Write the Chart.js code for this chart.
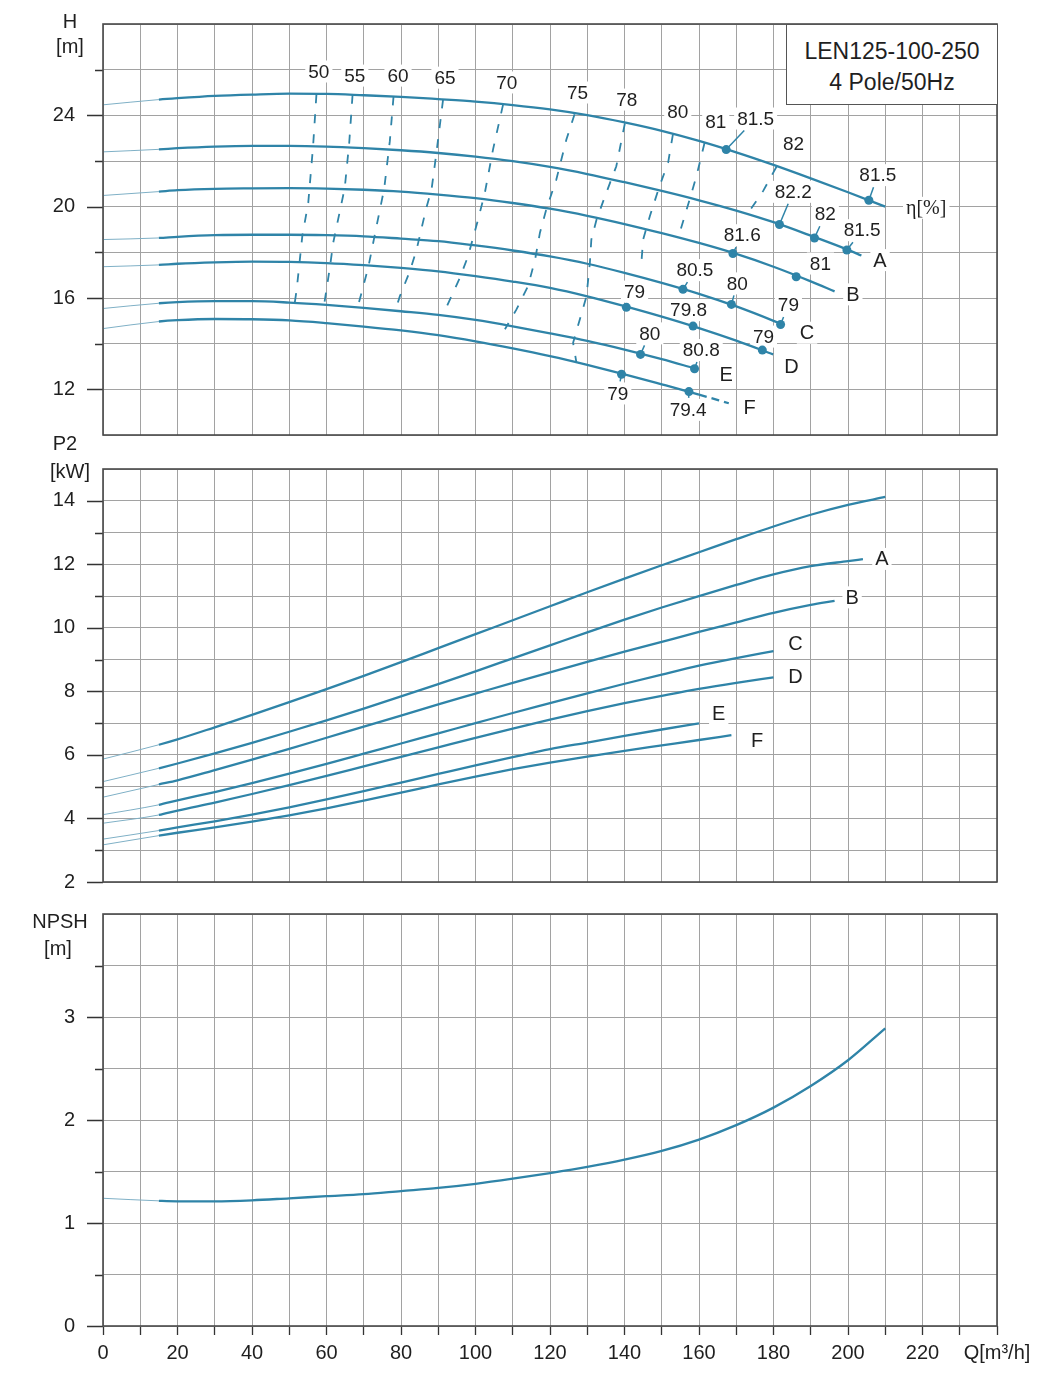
<!DOCTYPE html>
<html lang="en">
<head>
<meta charset="UTF-8">
<title>LEN125-100-250 4 Pole/50Hz</title>
<script src="https://cdn.jsdelivr.net/npm/chart.js"></script>
<style>
  body { margin: 0; background: #fff; }
  #page { position: relative; width: 1046px; height: 1373px; font-family: "Liberation Sans", Arial, sans-serif; color: #1f1f1f; }
  #page canvas { position: absolute; left: 0; }
  .lbl { position: absolute; transform: translate(-50%, -50%); font-size: 20px; white-space: nowrap; }
  #model { position: absolute; left: 786px; top: 24px; width: 212px; height: 81px; box-sizing: border-box;
           border: 1.5px solid #555; background: #fff; text-align: center; font-size: 23px; line-height: 31px; padding-top: 11px; }
</style>
</head>
<body>
<div id="page">
  <canvas id="chartH" width="1046" height="449" style="top:0"></canvas>
  <canvas id="chartP" width="1046" height="443" style="top:455px"></canvas>
  <canvas id="chartN" width="1046" height="473" style="top:900px"></canvas>
  <div class="lbl" style="left:70px;top:21px">H</div>
  <div class="lbl" style="left:70px;top:46px">[m]</div>
  <div class="lbl" style="left:65px;top:443px">P2</div>
  <div class="lbl" style="left:70px;top:471px">[kW]</div>
  <div class="lbl" style="left:60px;top:921px">NPSH</div>
  <div class="lbl" style="left:58px;top:948px">[m]</div>
  <div id="model"><div>LEN125-100-250</div><div>4 Pole/50Hz</div></div>
</div>
<script>
  // flow grid shared by every curve (m3/h); each curve stops at its own end value
  const qGrid = [0, 15, 20, 30, 40, 50, 60, 70, 80, 90, 100, 110, 120, 130, 140, 150, 160, 170, 180, 190, 200, 210];
  const curveNames = ['', 'A', 'B', 'C', 'D', 'E', 'F'];

  // H-Q curves
  const hEnd = [210, 203.6, 196.4, 181.9, 179.9, 158.8, 168];
  const hValues = [
    [24.46, 24.69, 24.75, 24.85, 24.91, 24.95, 24.94, 24.88, 24.81, 24.71, 24.6, 24.45, 24.26, 24.01, 23.69, 23.32, 22.88, 22.38, 21.83, 21.24, 20.63, 20.0],
    [22.4, 22.51, 22.56, 22.63, 22.66, 22.66, 22.63, 22.56, 22.47, 22.35, 22.19, 21.99, 21.74, 21.43, 21.07, 20.69, 20.28, 19.83, 19.32, 18.73, 18.11, 17.86],
    [20.49, 20.66, 20.72, 20.78, 20.8, 20.81, 20.79, 20.74, 20.66, 20.53, 20.37, 20.16, 19.91, 19.6, 19.24, 18.84, 18.41, 17.93, 17.37, 16.73, 16.29],
    [18.56, 18.63, 18.68, 18.75, 18.77, 18.77, 18.75, 18.7, 18.6, 18.49, 18.3, 18.08, 17.82, 17.5, 17.1, 16.66, 16.18, 15.63, 15.0, 14.87],
    [17.37, 17.45, 17.5, 17.56, 17.59, 17.58, 17.53, 17.44, 17.32, 17.17, 16.96, 16.72, 16.44, 16.07, 15.64, 15.18, 14.68, 14.13, 13.53],
    [15.54, 15.77, 15.82, 15.86, 15.86, 15.8, 15.7, 15.57, 15.42, 15.26, 15.04, 14.76, 14.45, 14.12, 13.74, 13.32, 12.92],
    [14.66, 14.97, 15.03, 15.08, 15.07, 15.02, 14.9, 14.75, 14.58, 14.37, 14.1, 13.79, 13.45, 13.07, 12.66, 12.22, 11.77, 11.39]
  ];

  // P2-Q curves
  const pEnd = [210, 204, 196.4, 180, 180, 160, 168.7];
  const pValues = [
    [5.87, 6.32, 6.49, 6.87, 7.26, 7.66, 8.07, 8.49, 8.92, 9.36, 9.8, 10.24, 10.68, 11.12, 11.55, 11.97, 12.38, 12.79, 13.19, 13.56, 13.87, 14.12],
    [5.16, 5.58, 5.73, 6.05, 6.38, 6.73, 7.09, 7.46, 7.84, 8.23, 8.63, 9.04, 9.45, 9.86, 10.26, 10.64, 11.0, 11.35, 11.68, 11.94, 12.1, 12.16],
    [4.67, 5.07, 5.2, 5.52, 5.85, 6.19, 6.54, 6.89, 7.24, 7.59, 7.93, 8.27, 8.6, 8.93, 9.25, 9.56, 9.87, 10.17, 10.47, 10.72, 10.85],
    [4.12, 4.43, 4.57, 4.83, 5.11, 5.41, 5.72, 6.04, 6.36, 6.68, 7.0, 7.32, 7.63, 7.94, 8.24, 8.53, 8.81, 9.05, 9.27],
    [3.85, 4.11, 4.25, 4.5, 4.77, 5.05, 5.34, 5.64, 5.94, 6.24, 6.54, 6.83, 7.11, 7.38, 7.63, 7.86, 8.08, 8.27, 8.44],
    [3.35, 3.62, 3.72, 3.91, 4.12, 4.35, 4.6, 4.86, 5.13, 5.4, 5.67, 5.93, 6.18, 6.39, 6.6, 6.8, 6.99],
    [3.17, 3.46, 3.55, 3.72, 3.9, 4.1, 4.32, 4.56, 4.81, 5.07, 5.32, 5.55, 5.76, 5.95, 6.13, 6.3, 6.47, 6.62]
  ];

  // NPSH-Q
  const npshEnd = 210;
  const npshValues = [1.24, 1.215, 1.21, 1.21, 1.22, 1.24, 1.26, 1.28, 1.31, 1.34, 1.38, 1.43, 1.485, 1.545, 1.615, 1.7, 1.81, 1.95, 2.12, 2.33, 2.58, 2.89];

  // iso-efficiency lines (dashed)
  const isoEff = ['50', '55', '60', '65', '70', '75', '78', '80', '81', '82'];
  const isoQ = [
    [57.3, 56.4, 55.1, 53.5, 52.0, 51.1],
    [67.0, 66.1, 64.9, 61.8, 60.9, 59.1],
    [78.0, 77.0, 75.5, 73.5, 71.2, 68.1],
    [91.3, 89.5, 88.2, 86.8, 84.2, 82.4, 79.7, 78.3],
    [107.4, 104.7, 102.5, 100.7, 98.0, 95.8, 92.2],
    [126.6, 124.4, 121.7, 119.0, 117.3, 116.0, 114.1, 111.0, 107.9],
    [140.1, 137.8, 135.1, 132.5, 131.1, 130.7, 129.8, 128.0, 126.2, 127.1],
    [153.0, 151.7, 149.4, 146.8, 145.0, 144.4],
    [161.5, 159.3, 157.5, 154.8],
    [180.8, 177.2, 173.1]
  ];
  const isoH = [
    [24.92, 22.65, 20.17, 18.7, 16.38, 15.36],
    [24.9, 22.8, 20.82, 18.42, 17.33, 15.43],
    [24.83, 22.87, 20.8, 19.2, 17.33, 15.43],
    [24.7, 22.35, 20.75, 19.95, 18.13, 17.18, 16.08, 15.36],
    [24.47, 22.5, 20.6, 19.44, 17.83, 16.88, 15.6],
    [24.05, 22.94, 21.19, 19.88, 18.86, 17.69, 16.52, 15.5, 14.63],
    [23.65, 21.77, 20.6, 19.44, 18.56, 17.54, 16.08, 15.06, 14.04, 13.16],
    [23.17, 21.92, 20.9, 19.58, 18.56, 17.25],
    [22.8, 21.33, 20.32, 18.85],
    [21.75, 20.68, 19.7]
  ];
  const isoLabelQ = [57.95, 67.6, 79.2, 91.8, 108.4, 127.4, 140.6, 154.3, 164.5, 185.4];
  const isoLabelH = [25.92, 25.74, 25.74, 25.65, 25.44, 25.0, 24.69, 24.17, 23.73, 22.77];

  // efficiency points on the curves
  const dotQ = [167.3, 205.6, 181.6, 191, 199.7, 169.1, 186.1, 155.7, 168.7, 181.9, 140.5, 158.4, 177, 144.3, 158.8, 139.2, 157.3];
  const dotH = [22.5, 20.28, 19.22, 18.63, 18.1, 17.95, 16.93, 16.38, 15.72, 14.84, 15.59, 14.77, 13.72, 13.53, 12.9, 12.66, 11.9];
  const dotEff = ['81.5', '81.5', '82.2', '82', '81.5', '81.6', '81', '80.5', '80', '79', '79', '79.8', '79', '80', '80.8', '79', '79.4'];
  const dotLabelQ = [175.2, 208.0, 185.3, 193.9, 203.8, 171.6, 192.6, 158.9, 170.3, 184.0, 142.7, 157.2, 177.3, 146.8, 160.6, 138.2, 157.1];
  const dotLabelH = [23.86, 21.38, 20.65, 19.67, 18.97, 18.75, 17.51, 17.22, 16.64, 15.69, 16.28, 15.47, 14.31, 14.45, 13.72, 11.82, 11.1];

  // curve letters
  const hLetterQ = [208.6, 201.3, 189.0, 184.8, 167.3, 173.6];
  const hLetterH = [17.66, 16.16, 14.48, 13.02, 12.66, 11.2];
  const pLetterQ = [209.1, 201.1, 185.9, 185.9, 165.3, 175.6];
  const pLetterP = [12.17, 10.96, 9.51, 8.48, 7.3, 6.46];

  const hTickLabels = [12, 16, 20, 24];
  const pTickLabels = [2, 4, 6, 8, 10, 12, 14];
  const nTickLabels = [0, 1, 2, 3];

  const TEAL = '#2f84a8';
  const THIN = '#7fb0c6';
  const GRID = '#a2a2a2';
  const FONT = 'Liberation Sans';

  function qFor(end) { return qGrid.filter(q => q < end).concat(end); }
  function points(end, vals) { return qFor(end).map((q, i) => ({ x: q, y: vals[i] })); }

  function curveSet(data, dashFrom) {
    return {
      data: data,
      borderColor: TEAL,
      borderWidth: 2.3,
      pointRadius: 0,
      cubicInterpolationMode: 'monotone',
      segment: {
        borderWidth: c => c.p1.parsed.x <= 15 ? 1 : 2.3,
        borderColor: c => c.p1.parsed.x <= 15 ? THIN : TEAL,
        borderDash: c => (dashFrom != null && c.p0.parsed.x >= dashFrom) ? [8, 5] : undefined
      }
    };
  }

  function scalesFor(yMin, yMax, yStep, yLabels, xHeight, showX) {
    return {
      x: {
        type: 'linear', min: 0, max: 240,
        afterFit(s) { s.height = xHeight; s.paddingLeft = 0; s.paddingRight = 0; },
        ticks: {
          display: showX, stepSize: 10, autoSkip: false, maxRotation: 0, padding: 6,
          color: '#1f1f1f', font: { family: FONT, size: 20 },
          callback: v => v === 240 ? 'Q[m³/h]' : (v % 20 === 0 ? String(v) : '')
        },
        grid: { color: GRID, lineWidth: 1, drawTicks: showX, tickLength: 9, tickColor: '#333', tickWidth: 1.3 },
        border: { display: false }
      },
      y: {
        min: yMin, max: yMax,
        afterFit(s) { s.width = 103; s.paddingTop = 0; s.paddingBottom = 0; },
        ticks: {
          stepSize: yStep, autoSkip: false, padding: 28,
          color: '#1f1f1f', font: { family: FONT, size: 20 },
          callback: v => yLabels.includes(v) ? String(v) : ''
        },
        grid: { color: GRID, lineWidth: 1, drawTicks: false },
        border: { display: false }
      }
    };
  }

  // labels, leaders, frame and y tick marks
  const decor = {
    id: 'decor',
    beforeDatasetsDraw(chart, args, o) {
      const { ctx, scales: { x, y } } = chart;
      ctx.save();
      (o.leaders || []).forEach(l => {
        const x0 = x.getPixelForValue(l.q0), y0 = y.getPixelForValue(l.v0);
        const x1 = x.getPixelForValue(l.q1), y1 = y.getPixelForValue(l.v1);
        const dy = Math.abs(y1 - y0);
        const t = Math.max(0, (dy - 12) / dy);
        ctx.strokeStyle = TEAL; ctx.lineWidth = 1.5;
        ctx.beginPath();
        ctx.moveTo(x0, y0);
        ctx.lineTo(x0 + (x1 - x0) * t, y0 + (y1 - y0) * t);
        ctx.stroke();
      });
      (o.texts || []).forEach(t => {
        const px = x.getPixelForValue(t.q), py = y.getPixelForValue(t.v);
        ctx.font = t.font;
        const w = ctx.measureText(t.text).width;
        ctx.fillStyle = '#fff';
        ctx.fillRect(px - w / 2 - 3, py - 11, w + 6, 22);
        ctx.fillStyle = '#1f1f1f';
        ctx.textAlign = 'center';
        ctx.textBaseline = 'middle';
        ctx.fillText(t.text, px, py + 1);
      });
      ctx.restore();
    },
    afterDraw(chart, args, o) {
      const { ctx, chartArea: a, scales: { y } } = chart;
      ctx.save();
      ctx.strokeStyle = '#333';
      ctx.lineWidth = 1.3;
      ctx.beginPath();
      y.ticks.forEach(t => {
        const major = o.yLabels.includes(t.value);
        if (!major && (t.value === y.min || t.value === y.max)) return;
        const py = Math.round(y.getPixelForValue(t.value)) + 0.5;
        ctx.moveTo(a.left - (major ? 16 : 8), py);
        ctx.lineTo(a.left, py);
      });
      ctx.stroke();
      ctx.strokeStyle = '#4a4a4a';
      ctx.lineWidth = 1.6;
      ctx.strokeRect(a.left, a.top, a.right - a.left, a.bottom - a.top);
      ctx.restore();
    }
  };

  function baseOptions(scales, decorOpts, padTop) {
    return {
      responsive: false,
      animation: false,
      events: [],
      layout: { padding: { top: padTop, right: 49, bottom: 0, left: 0 } },
      plugins: { legend: { display: false }, tooltip: { enabled: false }, decor: decorOpts },
      scales: scales
    };
  }

  // ---- H chart ----
  const hSets = [];
  hValues.forEach((vals, i) => {
    hSets.push(curveSet(points(hEnd[i], vals), curveNames[i] === 'F' ? 160 : null));
  });
  isoQ.forEach((qs, i) => {
    hSets.push({
      data: qs.map((q, j) => ({ x: q, y: isoH[i][j] })),
      borderColor: TEAL, borderWidth: 1.8, borderDash: [9, 11], pointRadius: 0, tension: 0
    });
  });
  hSets.push({
    data: dotQ.map((q, i) => ({ x: q, y: dotH[i] })),
    showLine: false, pointRadius: 4.5, pointBackgroundColor: TEAL, pointBorderWidth: 0
  });

  const hTexts = [];
  isoEff.forEach((e, i) => hTexts.push({ q: isoLabelQ[i], v: isoLabelH[i], text: e, font: '19px ' + FONT }));
  dotEff.forEach((e, i) => hTexts.push({ q: dotLabelQ[i], v: dotLabelH[i], text: e, font: '19px ' + FONT }));
  curveNames.slice(1).forEach((n, i) => hTexts.push({ q: hLetterQ[i], v: hLetterH[i], text: n, font: '20px ' + FONT }));
  hTexts.push({ q: 221, v: 19.95, text: 'η[%]', font: '20px Liberation Serif' });
  const hLeaders = dotQ.map((q, i) => ({ q0: q, v0: dotH[i], q1: dotLabelQ[i], v1: dotLabelH[i] }));

  new Chart(document.getElementById('chartH'), {
    type: 'line',
    data: { datasets: hSets },
    options: baseOptions(scalesFor(10, 28, 2, hTickLabels, 14, false),
      { texts: hTexts, leaders: hLeaders, yLabels: hTickLabels }, 24),
    plugins: [decor]
  });

  // ---- P2 chart ----
  const pSets = pValues.map((vals, i) => curveSet(points(pEnd[i], vals), null));
  const pTexts = curveNames.slice(1).map((n, i) => ({ q: pLetterQ[i], v: pLetterP[i], text: n, font: '20px ' + FONT }));
  new Chart(document.getElementById('chartP'), {
    type: 'line',
    data: { datasets: pSets },
    options: baseOptions(scalesFor(2, 15, 1, pTickLabels, 16, false),
      { texts: pTexts, yLabels: pTickLabels }, 14),
    plugins: [decor]
  });

  // ---- NPSH chart ----
  new Chart(document.getElementById('chartN'), {
    type: 'line',
    data: { datasets: [curveSet(points(npshEnd, npshValues), null)] },
    options: baseOptions(scalesFor(0, 4, 0.5, nTickLabels, 47, true),
      { yLabels: nTickLabels }, 14),
    plugins: [decor]
  });
</script>
</body>
</html>
